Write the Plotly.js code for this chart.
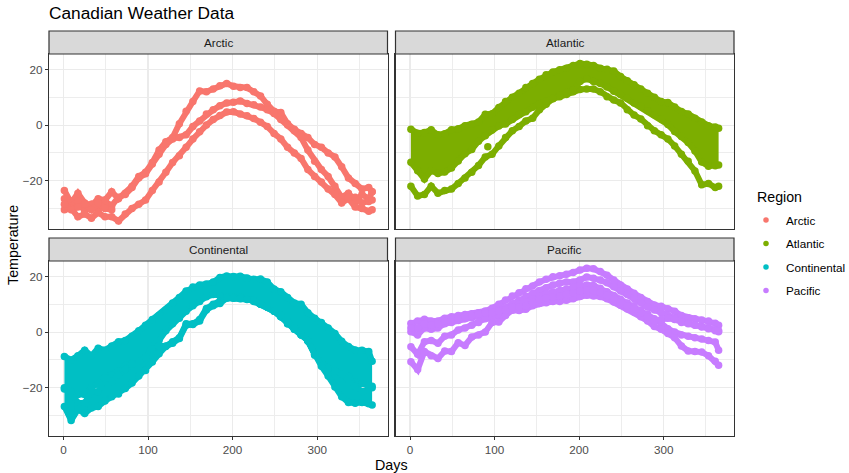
<!DOCTYPE html>
<html><head><meta charset="utf-8">
<script src="https://cdn.plot.ly/plotly-3.0.1.min.js"></script>
<style>html,body{margin:0;padding:0;background:#fff}#c{width:849px;height:473px}</style>
</head><body><div id="c"></div>
<script>
const days=[1,9,17,25,33,41,49,57,65,73,81,89,97,105,113,121,129,137,145,153,161,169,177,185,193,201,209,217,225,233,241,249,257,265,273,281,289,297,305,313,321,329,337,345,353,361,365];
const regions=["Arctic","Atlantic","Continental","Pacific"];
const colors=["#F8766D","#7CAE00","#00BFC4","#C77CFF"];
const xTicks=[0,100,200,300];
const yTicks=[-20,0,20];

const arcticA=[-23.5,-28,-24.5,-28,-29,-26.5,-27,-24,-26.5,-24.5,-22,-18.5,-17,-13.5,-9,-6,-4.5,0.5,5,8.5,12.3,12,13,14.2,15,14,13.5,13.5,12,10.5,7.5,5,4.5,0.5,-1.5,-3,-4.5,-7,-8,-10,-11.5,-15,-19,-21,-23,-22.5,-24];
const arcticB=[-26.5,-29,-27.5,-31,-28.5,-30.5,-27.5,-29,-26,-25,-22.5,-19,-17.5,-14,-10.5,-7,-5,-4.5,-3.5,-0.5,1.5,4,5.5,7,8,8.2,8.7,7.8,7.3,6.5,5.5,4.2,2,0,-2,-4.5,-9,-13,-16,-18.5,-22,-26,-24.5,-27.5,-25,-26.5,-24];
const arcticC=[-30.5,-30,-33,-32,-33.5,-31.5,-33,-33,-34.5,-32,-30,-28.5,-27,-23.5,-20.5,-17,-13.5,-11,-8,-5,-2.4,0,2,3.5,4.7,4.8,4,3.4,2.4,1,-0.5,-3,-5,-8,-10,-12,-16,-18.5,-20.5,-23,-25,-28,-26.5,-29.5,-30,-31,-30.5];
const arcticJanDays=[1,9,17,25,33,41,49,57];
const arcticJanTemp=[-28.5,-30.5,-29.5,-28.5,-30.5,-28,-30,-30.5];
const arcticDecDays=[337,345,353,361,365];
const arcticDecTemp=[-26,-26,-28,-27.5,-27];

const atlanticTop=[-1.5,-2.9,-2.7,-1.7,-3.5,-3.1,-1.7,-1.3,-0.2,0.3,1.1,3.9,4.1,6.3,8.5,10,11.5,13.5,15,16.5,18.1,19.1,19.9,20.5,21.5,22.2,21.9,21.5,20.5,20.1,19.5,17.5,16,14.5,13,11.5,10,8.5,8.1,6.5,4.9,4,2.5,1.1,-0.2,-0.7,-1.1];
const atlanticBottom=[-13.4,-16.4,-19.4,-16.4,-17.4,-16.9,-15.4,-12.9,-10.3,-8.8,-5.8,-3.8,-1.8,-0.3,0.4,2,3.8,4.8,6.4,7.7,8.6,9.6,10.8,11.7,12.7,15.7,16.7,15.7,15,13.7,12.2,11,9.7,8,6.7,5.2,3.7,2.2,0.2,-2.3,-4.1,-6.3,-9.3,-13.3,-14.8,-14.6,-14.4];
const atlanticLow=[-22,-25.5,-25,-22,-24.5,-23.5,-23,-21,-19,-17,-14.5,-11.5,-10.5,-7.5,-4.5,-2,-0.5,1.5,2.5,5.5,7.5,9.5,10.2,11,12,12.8,13,13,12,10.2,9,8,5.5,3.6,2.2,-0.2,-2,-3.5,-5,-7.5,-10.5,-13,-16.5,-21.5,-21,-22.5,-22];
const atlanticSpurDay=[92];
const atlanticSpurTemp=[-7.8];

const contTop=[-8.8,-10,-8.5,-6.5,-8.5,-5.8,-6.5,-5,-3.5,-3,-1.5,0.5,2.5,4.5,6,8,10.5,12.5,14.8,16.2,17,17.3,18,19.7,20.2,20,20.1,19.5,19,19.1,18,15.5,14.5,12.5,10.5,10,7,5,3.5,1.5,-0.5,-3.3,-5.2,-6.4,-6.5,-7,-10.5];
const contUpperEdge=[-20,-21.5,-22.5,-22.5,-20,-18.5,-15.5,-15.5,-14,-12,-11,-10.5,-9,-5,-3,0.5,3,5,7.5,9.5,11,12.7,13.5,13,12.5,12.5,12.5,12,11.5,10,9,7.5,5.5,3,1,-1,-3,-8,-11,-13,-14,-15,-16,-18,-18.5,-19,-19.5];
const contLowerEdge=[-20.5,-21.5,-25.5,-25.5,-21.5,-21.5,-16.5,-18,-15.5,-13.5,-11.5,-10.5,-9,-6,-5,-5,-3.5,-2,3,3,4.5,8.5,10,11,12.5,12.5,12.5,12,11,10,9,7.5,5.5,3,1,-1,-3,-8,-11,-13,-14,-15,-17,-19.5,-21.5,-20.5,-20];
const contBottom=[-26.8,-31.8,-27.8,-29.3,-27.3,-26.8,-24.8,-23.3,-22.3,-20.3,-18.3,-15.8,-13.8,-10.8,-7.8,-5.2,-4,-2.3,2.5,2.7,4,8,9.5,10.3,12.2,12.2,12,11.7,11.4,10.2,9,7.7,6.2,3.7,1.5,-0.3,-3.3,-8.3,-12.3,-15.8,-19.8,-23.3,-25.3,-25.6,-25.3,-25.8,-26.2];

const pacificA=[3.1,4,4.6,4,4,5,5.5,6,6.3,6.6,7,7.6,8.6,10,11.6,13,14.2,15.6,16.6,18,19,19.9,20.3,20.8,21.5,22.4,23,22.8,21.8,20.5,18.8,17,15.5,14,12.5,11,9.8,9.3,8.4,7.5,6,5.2,4.8,4.4,4,3.2,2.5];
const pacificB=[0.1,-1,1.5,1,1.5,3,3.5,4.2,4.8,5.2,5.8,6.4,7.2,8,8.8,10.2,11.5,12.8,14,15,16,17,17.6,18,18,18.8,19.8,19.4,18.8,17.8,16.3,14.8,13.5,12,10.6,9,8,7,6,5,3.8,3.2,2.6,2,1.7,0.8,0.1];
const pacificC=[-5.3,-8,-3.5,-3,-4,-1.5,-1,0.8,1.5,2.5,3.5,4.8,5,6,7.5,9,10,10.8,12,13,13.8,14.4,15,15.5,16.3,16.7,17,16.8,15.8,14.5,13.2,11.8,10.5,9.5,8,6.5,4.8,3.2,1.2,0,-1,-1.5,-2,-2.5,-3,-3.6,-6.5];
const pacificD=[-10.7,-13.5,-7,-8.5,-9.5,-6.8,-7,-3.8,-4.8,-1.8,-1,0,3.5,3.6,6,7.9,7.8,8.2,9.5,10.3,10.6,11,11,11.5,12,12.8,13.3,13,12.8,12,10.8,9.7,8.3,7.2,5.5,4,2,1,-0.5,-2,-5,-6.8,-7,-7.2,-8.5,-10.5,-11.9];
const pacificE=[1.5,1.5,3,2.5,3,4,4.5,5,5.5,6,6.5,7,7,7.5,8,9,9,9.5,10.7,11.7,12.3,12.7,13,13.5,14.2,14.8,15.2,15,14.3,13.3,12,10.8,9.5,8.5,7,5.5,4,4.5,5,4.5,3.5,3,2.5,1.8,1.2,0.5,0.5];

const MS=7.5, LW=6;
function series(y,i,xa,ya,fill,xs){
  const t={x:xs||days,y:y,mode:'lines+markers',xaxis:xa,yaxis:ya,showlegend:false,hoverinfo:'skip',
    marker:{color:colors[i],size:MS},line:{color:colors[i],width:LW}};
  if(fill){t.fill='tonexty';t.fillcolor=colors[i];}
  return t;
}
const traces=[
  series(arcticA,0,'x','y'),series(arcticB,0,'x','y'),series(arcticC,0,'x','y'),
  series(arcticJanTemp,0,'x','y',false,arcticJanDays),series(arcticDecTemp,0,'x','y',false,arcticDecDays),
  series(atlanticLow,1,'x2','y2'),series(atlanticTop,1,'x2','y2'),series(atlanticBottom,1,'x2','y2',true),
  {x:atlanticSpurDay,y:atlanticSpurTemp,mode:'markers',xaxis:'x2',yaxis:'y2',showlegend:false,hoverinfo:'skip',marker:{color:colors[1],size:MS}},
  series(contTop,2,'x3','y3'),series(contUpperEdge,2,'x3','y3',true),series(contLowerEdge,2,'x3','y3'),series(contBottom,2,'x3','y3',true),
  series(pacificA,3,'x4','y4'),series(pacificB,3,'x4','y4'),series(pacificC,3,'x4','y4'),series(pacificD,3,'x4','y4'),series(pacificE,3,'x4','y4')
];
regions.forEach((r,i)=>traces.push({x:[null],y:[null],name:r,mode:'markers',legendgroup:r,showlegend:true,
  marker:{color:colors[i],size:5.5},xaxis:'x',yaxis:'y'}));

const W=849,H=473,L=49,R=734,T=54,B=436;
const px=v=>(v-L)/(R-L), py=v=>(B-v)/(B-T);
const font="'Liberation Sans',Arial,sans-serif";
function xax(dom,anchor,labels){return {domain:dom,anchor:anchor,range:[-17.2,383.2],tickvals:xTicks,showticklabels:labels,ticks:labels?'outside':'',ticklen:3,tickcolor:'#333',tickwidth:1,
  tickfont:{size:11.7,color:'#4d4d4d',family:font},showgrid:true,gridcolor:'#ebebeb',gridwidth:1.2,zeroline:false,showline:true,mirror:true,linecolor:'#333',linewidth:1.2,
  minor:{dtick:50,tick0:0,showgrid:true,gridcolor:'#ededed',gridwidth:1,ticks:''}};}
function yax(dom,anchor,labels){return {domain:dom,anchor:anchor,range:[-37.4,25.6],tickvals:yTicks,ticktext:['\u221220','0','20'],showticklabels:labels,ticks:labels?'outside':'',ticklen:3,tickcolor:'#333',tickwidth:1,
  tickfont:{size:11.7,color:'#4d4d4d',family:font},showgrid:true,gridcolor:'#ebebeb',gridwidth:1.2,zeroline:false,showline:true,mirror:true,linecolor:'#333',linewidth:1.2,
  minor:{dtick:10,tick0:0,showgrid:true,gridcolor:'#ededed',gridwidth:1,ticks:''}};}
const xL=[0,px(387.5)],xR=[px(395.5),1],yT=[py(229),1],yB=[0,py(261)];
const strips=[[49,387.5,31,54],[395.5,734,31,54],[49,387.5,238,261],[395.5,734,238,261]];
const layout={width:W,height:H,margin:{l:L,r:W-R,t:T,b:H-B,autoexpand:false},paper_bgcolor:'#fff',plot_bgcolor:'#fff',font:{family:font,color:'#000'},
  title:{text:'Canadian Weather Data',x:L/W,xanchor:'left',xref:'container',y:1-13/H,yanchor:'middle',font:{size:17.3,color:'#000',family:font}},
  xaxis:xax(xL,'y',false),yaxis:yax(yT,'x',true),
  xaxis2:xax(xR,'y2',false),yaxis2:yax(yT,'x2',false),
  xaxis3:xax(xL,'y3',true),yaxis3:yax(yB,'x3',true),
  xaxis4:xax(xR,'y4',true),yaxis4:yax(yB,'x4',false),
  shapes:strips.map(s=>({type:'rect',xref:'paper',yref:'paper',x0:px(s[0]),x1:px(s[1]),y0:py(s[3]),y1:py(s[2]),fillcolor:'#d9d9d9',line:{color:'#333',width:1.2},layer:'above'})),
  annotations:strips.map((s,i)=>({xref:'paper',yref:'paper',x:px((s[0]+s[1])/2),y:py((s[2]+s[3])/2),text:regions[i],showarrow:false,xanchor:'center',yanchor:'middle',font:{size:11.7,color:'#1a1a1a',family:font}})).concat([
    {xref:'paper',yref:'paper',x:px(391.5),y:py(465),text:'Days',showarrow:false,xanchor:'center',yanchor:'middle',font:{size:14.3,color:'#000',family:font}},
    {xref:'paper',yref:'paper',x:px(13),y:py(245),text:'Temperature',textangle:-90,showarrow:false,xanchor:'center',yanchor:'middle',font:{size:14.3,color:'#000',family:font}},
    {xref:'paper',yref:'paper',x:px(757),y:py(197),text:'Region',showarrow:false,xanchor:'left',yanchor:'middle',xshift:-2,font:{size:14.2,color:'#000',family:font}}
  ]),
  legend:{x:px(755),xanchor:'left',y:py(205.5),yanchor:'top',traceorder:'grouped',tracegroupgap:4.5,indentation:-9,bgcolor:'rgba(0,0,0,0)',
    font:{size:11.7,color:'#000',family:font}},
  showlegend:true
};
Plotly.newPlot('c',traces,layout,{displayModeBar:false,staticPlot:true});
</script></body></html>
